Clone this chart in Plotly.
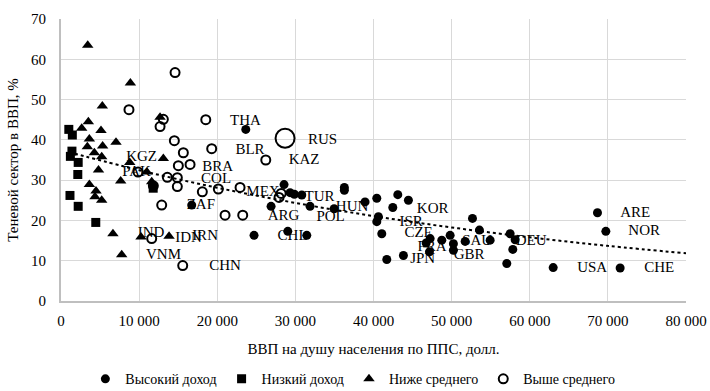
import plotly.graph_objects as go

# ---- data (GDP per capita PPP, shadow economy % of GDP) ----
high_x = [23650, 28550, 29320, 29870, 30820, 31880, 26890, 34960, 36270, 36270, 38920, 40420,
          42470, 43110, 44470, 40630, 40420, 41060, 41700, 43830, 24710, 29030, 31460, 46740,
          47250, 47160, 48740, 49810, 50230, 50230, 51730, 52670, 53560, 54930, 57490, 58130,
          57830, 57060, 63000, 71570, 68670, 69740, 16730]
high_y = [42.6, 28.9, 26.9, 26.5, 26.3, 23.5, 23.5, 22.9, 28.2, 27.5, 24.6, 25.5,
          23.2, 26.4, 25.0, 20.9, 19.7, 16.7, 10.3, 11.3, 16.3, 17.3, 16.3, 14.4,
          15.5, 12.2, 15.1, 16.3, 14.2, 12.6, 14.8, 20.5, 17.6, 15.1, 16.7, 15.2,
          12.8, 9.3, 8.3, 8.2, 21.9, 17.3, 23.8]

low_x = [1000, 1450, 1400, 1200, 2200, 2150, 1150, 2200, 4450, 11800]
low_y = [42.6, 41.2, 37.2, 35.9, 34.4, 31.4, 26.2, 23.5, 19.5, 28.0]

lowmid_x = [3420, 8880, 5290, 12680, 3500, 2650, 5120, 3630, 3370, 5330, 7040, 4270, 5210, 8800,
            13100, 4800, 7640, 11000, 11610, 3630, 4480, 4350, 5210, 6650, 10240, 13830, 7770]
lowmid_y = [63.5, 54.1, 48.4, 45.6, 44.5, 42.9, 42.3, 40.2, 38.3, 38.5, 39.4, 36.8, 35.8, 34.4,
            35.4, 32.5, 29.8, 32.0, 29.6, 28.9, 27.3, 25.9, 25.0, 16.7, 15.9, 16.1, 11.5]

upmid_x = [8700, 14600, 13100, 12680, 18530, 14510, 19290, 15660, 26210, 15020, 16520, 9860, 11820,
           13610, 14890, 14890, 18090, 20140, 22920, 28180, 27910, 12890, 21000, 23260, 11610, 15580]
upmid_y = [47.5, 56.7, 45.1, 43.3, 45.0, 39.8, 37.8, 36.8, 35.0, 33.6, 33.9, 32.0, 28.6,
           30.7, 30.6, 28.4, 27.1, 27.8, 28.2, 26.7, 25.7, 23.8, 21.3, 21.3, 15.5, 8.8]

rus_x = [28680]
rus_y = [40.4]

label_text = ["THA", "RUS", "BLR", "KAZ", "KGZ", "PAK", "BRA", "COL", "MEX", "ZAF", "ARG", "TUR",
              "HUN", "POL", "CHL", "IND", "IDN", "IRN", "VNM", "CHN", "KOR", "ISR", "CZE", "FRA",
              "GBR", "SAU", "JPN", "DEU", "USA", "CHE", "ARE", "NOR"]
label_x = [23620, 33480, 24200, 31110, 10310, 9670, 20040, 19850, 25860, 17900, 28490, 33100,
           37260, 34510, 29640, 11520, 16330, 18440, 13120, 21000, 47570, 44810, 45770, 47500,
           52240, 53270, 46290, 60180, 67990, 76570, 73500, 74650]
label_y = [44.7, 39.9, 37.4, 35.0, 35.7, 32.0, 33.3, 30.3, 27.0, 23.7, 21.0, 25.7,
           23.3, 20.8, 16.1, 16.7, 15.5, 16.0, 11.3, 8.6, 22.8, 19.6, 16.7, 13.4,
           11.3, 14.9, 10.3, 14.9, 8.1, 8.1, 21.8, 17.2]

legend_names = ["Высокий доход", "Низкий доход", "Ниже среднего", "Выше среднего"]

# exponential trendline as shown on the chart: y = a * exp(b * x)
trend_a = 37.5
trend_b = -1.44e-5
trend_x = [1000, 10000, 20000, 30000, 40000, 50000, 60000, 70000, 80000]

FONT = "Liberation Serif, Times New Roman, serif"
fig = go.Figure()

fig.add_trace(go.Scatter(x=label_x, y=label_y, mode="text", text=label_text,
                         textfont=dict(family=FONT, size=15, color="#000"),
                         showlegend=False, hoverinfo="skip"))
fig.add_trace(go.Scatter(x=trend_x, y=[trend_a * 2.718281828 ** (trend_b * v) for v in trend_x],
                         mode="lines", line=dict(color="#000", width=2, dash="dot", shape="spline"),
                         showlegend=False, hoverinfo="skip"))

fig.add_trace(go.Scatter(x=high_x, y=high_y, mode="markers", name=legend_names[0],
                         marker=dict(symbol="circle", size=9, color="#000")))
fig.add_trace(go.Scatter(x=low_x, y=low_y, mode="markers", name=legend_names[1],
                         marker=dict(symbol="square", size=9, color="#000")))
fig.add_trace(go.Scatter(x=lowmid_x, y=lowmid_y, mode="markers", name=legend_names[2],
                         marker=dict(symbol="triangle-up", size=10, color="#000")))
fig.add_trace(go.Scatter(x=upmid_x, y=upmid_y, mode="markers", name=legend_names[3],
                         marker=dict(symbol="circle-open", size=9, color="#000", line=dict(width=2))))
fig.add_trace(go.Scatter(x=rus_x, y=rus_y, mode="markers", showlegend=False,
                         marker=dict(symbol="circle-open", size=19, color="#000", line=dict(width=2))))

fig.update_layout(
    width=710, height=391,
    margin=dict(l=61, r=24, t=19, b=90, autoexpand=False),
    paper_bgcolor="white", plot_bgcolor="white",
    font=dict(family=FONT, size=15, color="#000"),
    separators=", ",
    showlegend=True,
    legend=dict(orientation="h", xref="container", x=0.497, xanchor="center",
                yref="container", y=0.03, yanchor="middle",
                font=dict(family=FONT, size=14, color="#000"),
                itemwidth=30, tracegroupgap=0),
    xaxis=dict(range=[0, 80000], dtick=10000, tickformat=",d", showgrid=True, automargin=False,
               gridcolor="#d9d9d9", gridwidth=1, zeroline=False, showline=True,
               linecolor="#bfbfbf", linewidth=2, ticks="", ticklabelstandoff=5,
               title=dict(text="ВВП на душу населения по ППС, долл.", standoff=15,
                          font=dict(family=FONT, size=15))),
    yaxis=dict(range=[0, 70], dtick=10, showgrid=True, gridcolor="#d9d9d9", gridwidth=1,
               automargin=False,
               zeroline=False, showline=True, linecolor="#bfbfbf", linewidth=2, ticks="",
               ticklabelstandoff=10,
               title=dict(text="Теневой сектор в ВВП, %", standoff=9,
                          font=dict(family=FONT, size=15))),
)

fig.write_html("out.html", config={"displayModeBar": False},
               post_script="document.body.style.margin='0';document.body.style.padding='0';")
